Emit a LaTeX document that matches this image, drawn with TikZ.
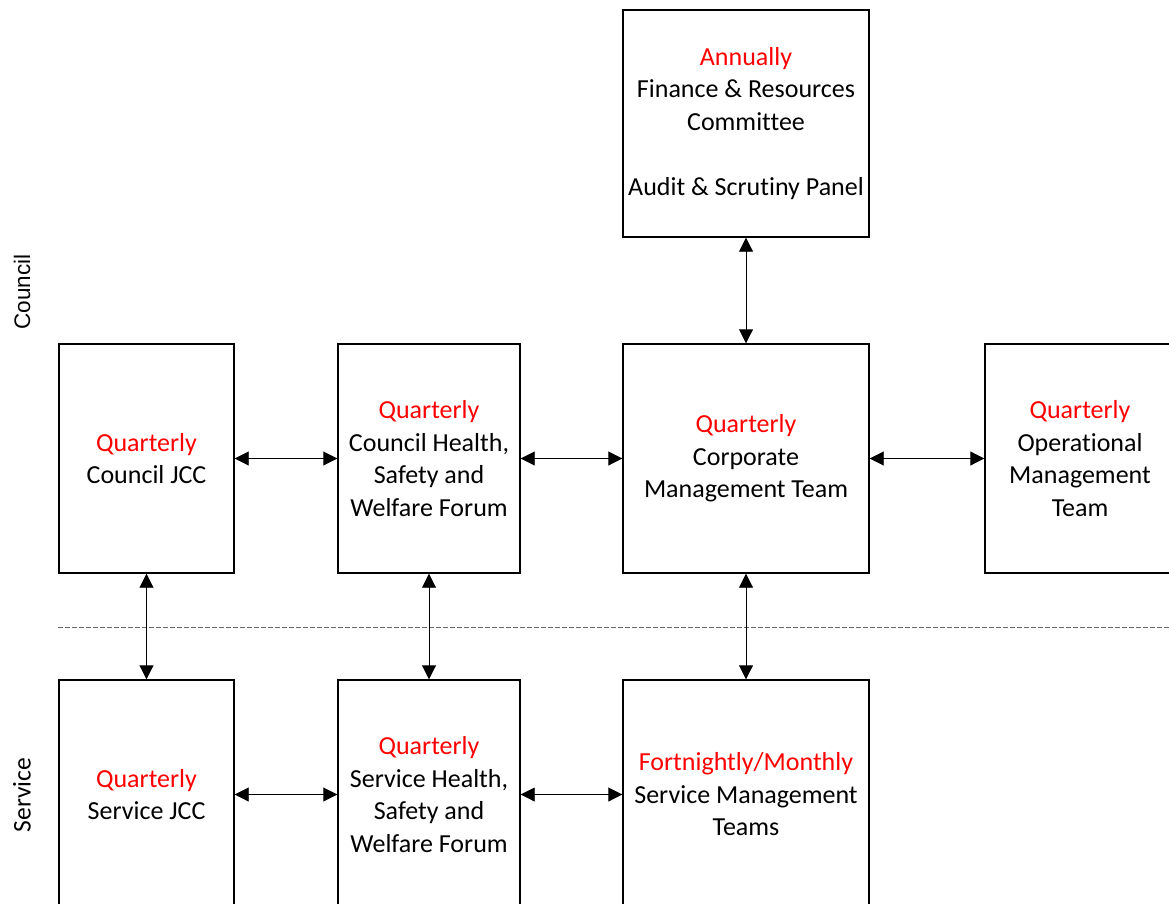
\documentclass[tikz,border=0pt]{standalone}
\usepackage{fontspec}
\setmainfont[Ligatures=NoCommon]{Carlito}
\newfontfamily\arialfont{Liberation Sans}
\usetikzlibrary{arrows.meta}

\begin{document}
\begin{tikzpicture}[x=1pt, y=-1pt,
	box/.style={draw, line width=1.4pt, align=center, inner sep=0pt, minimum height=229pt, font=\fontsize{26}{32.5}\selectfont},
	link/.style={{Triangle[length=14pt,width=14pt]}-{Triangle[length=14pt,width=14pt]}, line width=0.9pt}]

\useasboundingbox (0,0) rectangle (1169,904);
\clip (0,0) rectangle (1169,904);

\node[box, minimum width=246pt, minimum height=227pt](fin) at(746,123.5) {\textcolor{red}{Annually}\\Finance \& Resources\\Committee\\[32.5pt]Audit \& Scrutiny Panel};

\node[box, minimum width=175pt](jcc) at(146.5,458.5) {\textcolor{red}{Quarterly}\\Council JCC};
\node[box, minimum width=182pt](hsw) at(429,458.5) {\textcolor{red}{Quarterly}\\Council Health,\\Safety and\\Welfare Forum};
\node[box, minimum width=246pt](cmt) at(746,458.5) {\textcolor{red}{Quarterly}\\Corporate\\Management Team};
\node[box, minimum width=190pt](omt) at(1080,458.5) {\textcolor{red}{Quarterly}\\Operational\\Management\\Team};

\node[box, minimum width=175pt](sjcc) at(146.5,794.5) {\textcolor{red}{Quarterly}\\Service JCC};
\node[box, minimum width=182pt](shsw) at(429,794.5) {\textcolor{red}{Quarterly}\\Service Health,\\Safety and\\Welfare Forum};
\node[box, minimum width=246pt](smt) at(746,794.5) {\textcolor{red}{Fortnightly/Monthly}\\Service Management\\Teams};

\node[rotate=90, font=\arialfont\fontsize{22.5}{27}\selectfont](council) at(22,292) {Council};
\node[rotate=90, font=\fontsize{25.5}{30}\selectfont](service) at(22,795) {Service};

\coordinate(split-l) at(58,627);
\coordinate(split-r) at(1169,627);
\draw[gray!80!black, line width=0.8pt, dash pattern=on 5pt off 2pt] (split-l) -- (split-r);

\foreach \u \v in {
jcc/hsw%
,hsw/cmt%
,cmt/omt%
,sjcc/shsw%
,shsw/smt%
}{
	\draw[link] (\u.east) -- (\v.west);
}

\foreach \u \v in {
fin/cmt%
,jcc/sjcc%
,hsw/shsw%
,cmt/smt%
}{
	\draw[link] (\u.south) -- (\v.north);
}

\end{tikzpicture}
\end{document}
